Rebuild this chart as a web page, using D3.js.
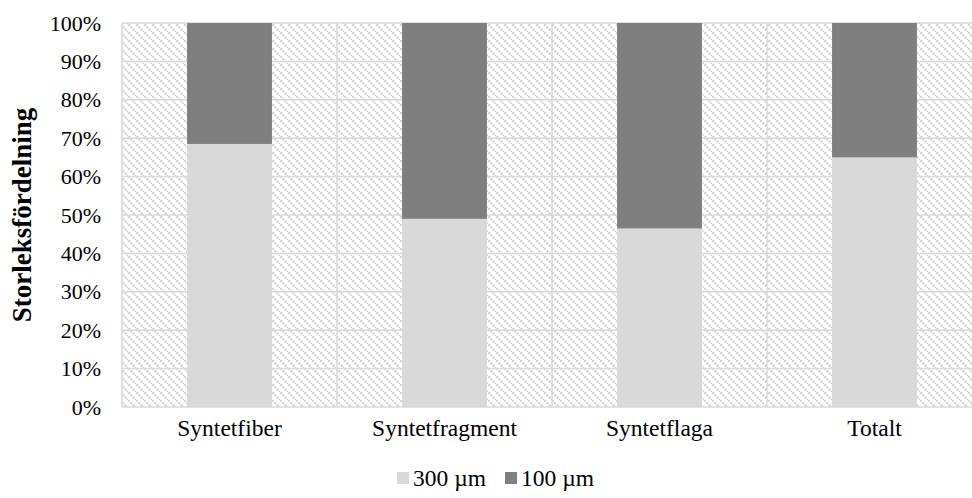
<!DOCTYPE html>
<html><head><meta charset="utf-8">
<script src="https://cdn.jsdelivr.net/npm/d3@7"></script>
<style>body{margin:0;background:#fff}svg{display:block}</style>
</head><body>
<svg id="c" width="972" height="498"></svg>
<script>
const categories = ["Syntetfiber", "Syntetfragment", "Syntetflaga", "Totalt"];
const seriesNames = ["300 µm", "100 µm"];
const values300 = [68.5, 49.0, 46.5, 65.0];
const values100 = [31.5, 51.0, 53.5, 35.0];
const yTicks = [0, 10, 20, 30, 40, 50, 60, 70, 80, 90, 100];
const colors = ["#d9d9d9", "#7f7f7f"];

const svg = d3.select("#c");
const font = "'Liberation Serif','Times New Roman',serif";
const L = 122, R = 982, T = 23, B = 407;

const defs = svg.append("defs");
const pat = defs.append("pattern").attr("id","hatch").attr("patternUnits","userSpaceOnUse")
  .attr("width",8).attr("height",8);
pat.append("rect").attr("width",8).attr("height",8).attr("fill","#fff");
pat.append("path").attr("d","M-2,-2 L10,10 M-2,6 L2,10 M6,-2 L10,2")
  .attr("stroke","#d0d0d0").attr("stroke-width",2.2).attr("stroke-dasharray","2,1.2");

const x = d3.scaleBand().domain(categories).range([L, R]).paddingInner(0.605).paddingOuter(0.3025);
const y = d3.scaleLinear().domain([0, 100]).range([B, T]);

svg.append("rect").attr("x",L).attr("y",T).attr("width",R-L).attr("height",B-T).attr("fill","url(#hatch)");

svg.append("g").selectAll("line").data(yTicks).join("line")
  .attr("x1",L).attr("x2",R).attr("y1",d=>y(d)).attr("y2",d=>y(d))
  .attr("stroke","#d9d9d9").attr("stroke-width",1.5);
const step = x.step();
svg.append("g").selectAll("line").data(d3.range(categories.length+1)).join("line")
  .attr("x1",i=>L+i*step).attr("x2",i=>L+i*step).attr("y1",T).attr("y2",B)
  .attr("stroke","#d9d9d9").attr("stroke-width",1.5);

const stackData = categories.map((c,i)=>({cat:c, s300:values300[i], s100:values100[i]}));
const stack = d3.stack().keys(["s300","s100"])(stackData);
svg.append("g").selectAll("g").data(stack).join("g").attr("fill",(d,i)=>colors[i])
  .selectAll("rect").data(d=>d).join("rect")
  .attr("x",d=>x(d.data.cat)).attr("width",x.bandwidth())
  .attr("y",d=>y(d[1])).attr("height",d=>y(d[0])-y(d[1]));

const yAxis = d3.axisLeft(y).tickValues(yTicks).tickFormat(d=>d+"%").tickSize(0).tickPadding(21);
const ya = svg.append("g").attr("transform",`translate(${L},0)`).call(yAxis);
ya.select(".domain").remove();
ya.selectAll("text").attr("font-family",font).attr("font-size",22).attr("fill","#000");

const xAxis = d3.axisBottom(x).tickSize(0).tickPadding(12);
const xa = svg.append("g").attr("transform",`translate(0,${B})`).call(xAxis);
xa.select(".domain").remove();
xa.selectAll("text").attr("font-family",font).attr("font-size",23.5).attr("fill","#000");

svg.append("text").attr("transform",`translate(31,${(T+B)/2}) rotate(-90)`)
  .attr("text-anchor","middle").attr("font-family",font).attr("font-weight","bold")
  .attr("font-size",27).text("Storleksfördelning");

const legX = [397, 505];
const lg = svg.append("g").selectAll("g").data(seriesNames).join("g")
  .attr("transform",(d,i)=>`translate(${legX[i]},478)`);
lg.append("rect").attr("x",0).attr("y",-6).attr("width",12).attr("height",12).attr("fill",(d,i)=>colors[i]);
lg.append("text").attr("x",16).attr("dy","0.35em").attr("font-family",font).attr("font-size",23.5).text(d=>d);
</script>
</body></html>
